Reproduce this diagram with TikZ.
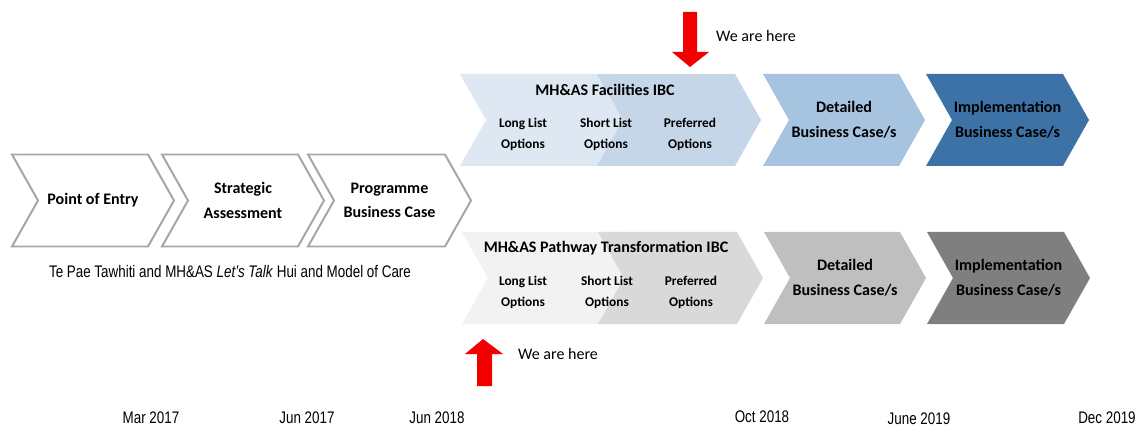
\documentclass[tikz,border=0pt]{standalone}
\usepackage{fontspec}
\setmainfont{Carlito}
\newfontfamily\narrowfont[FakeStretch=0.8]{Liberation Sans}
\usetikzlibrary{positioning}

\definecolor{line}{HTML}{A6A6A6}
\definecolor{blueA}{HTML}{DEE8F3}
\definecolor{blueB}{HTML}{C5D6E8}
\definecolor{blueC}{HTML}{A6C3DF}
\definecolor{blueD}{HTML}{3D72A6}
\definecolor{greyA}{HTML}{F2F2F2}
\definecolor{greyB}{HTML}{D9D9D9}
\definecolor{greyC}{HTML}{BFBFBF}
\definecolor{greyD}{HTML}{7F7F7F}
\definecolor{pointer}{HTML}{F20000}

% #1 style, #2 name, #3 left x, #4 top y, #5 length of top edge
\newcommand{\chevron}[5]{%
  \draw[#1] (#3,#4) -- ++(#5,0) -- ++(26,46) -- ++(-26,46) -- ++(-#5,0) -- ++(26,-46) -- cycle;
  \coordinate (#2) at ({#3+(#5+26)/2},{#4+46});}

\begin{document}
\begin{tikzpicture}[x = 0.03cm, y = -0.03cm,
    outline/.style = {draw = line, line width = 1.7pt, fill = white, line join = miter},
    solid/.style = {draw = none, fill = #1},
    title/.style = {align = center, font = \bfseries\fontsize{13.7}{21}\selectfont},
    sub/.style = {align = center, font = \bfseries\fontsize{11.4}{18}\selectfont},
    note/.style = {anchor = base west, font = \fontsize{13.7}{16}\selectfont},
    date/.style = {anchor = base, font = \narrowfont\fontsize{14.3}{16}\selectfont},
    arrowhere/.style = {fill = pointer, draw = none}]
    \useasboundingbox (0, 0) rectangle (1137, 426);

    \chevron{outline}{entry}{12}{154.5}{136}
    \chevron{outline}{sa}{162}{154.5}{136}
    \chevron{outline}{pbc}{308}{154.5}{137}

    \node[title](entry-t) at (entry) {Point of Entry};
    \node[title](sa-t) at (sa) {Strategic\\Assessment};
    \node[title](pbc-t) at (pbc) {Programme\\Business Case};

    \node[date](care) at (230, 278) {Te Pae Tawhiti and MH\&AS \textit{Let’s Talk} Hui and Model of Care};

    \chevron{solid = blueA}{fac1}{460}{74}{160}
    \chevron{solid = blueB}{fac2}{597}{74}{138}
    \chevron{solid = blueC}{fdbc}{763}{74}{136}
    \chevron{solid = blueD}{fibc}{926}{74}{137}

    \node[title](fac) at (605, 90) {MH\&AS Facilities IBC};
    \node[sub](fac-long) at (523, 134.5) {Long List\\Options};
    \node[sub](fac-short) at (606, 134.5) {Short List\\Options};
    \node[sub](fac-pref) at (690, 134.5) {Preferred\\Options};
    \node[title](fdbc-t) at (fdbc) {Detailed\\Business Case/s};
    \node[title](fibc-t) at (fibc) {Implementation\\Business Case/s};

    \chevron{solid = greyA}{path1}{462}{232}{160}
    \chevron{solid = greyB}{path2}{598}{232}{139}
    \chevron{solid = greyC}{pdbc}{764}{232}{136}
    \chevron{solid = greyD}{pibc}{927}{232}{137}

    \node[title](path) at (606, 248) {MH\&AS Pathway Transformation IBC};
    \node[sub](path-long) at (523, 292) {Long List\\Options};
    \node[sub](path-short) at (607, 292) {Short List\\Options};
    \node[sub](path-pref) at (691, 292) {Preferred\\Options};
    \node[title](pdbc-t) at (pdbc) {Detailed\\Business Case/s};
    \node[title](pibc-t) at (pibc) {Implementation\\Business Case/s};

    \fill[arrowhere] (683, 12) -- (697, 12) -- (697, 52) -- (709, 52) -- (690, 67) -- (672, 52) -- (683, 52) -- cycle;
    \node[note](here1) at (712, 42) {We are here};

    \fill[arrowhere] (483, 339) -- (503, 354) -- (492, 354) -- (492, 386) -- (477, 386) -- (477, 354) -- (465, 354) -- cycle;
    \node[note](here2) at (514, 359) {We are here};

    \node[date](mar17) at (151, 423) {Mar 2017};
    \node[date](jun17) at (307, 423) {Jun 2017};
    \node[date](jun18) at (437, 423) {Jun 2018};
    \node[date](oct18) at (762, 422) {Oct 2018};
    \node[date](jun19) at (919, 424) {June 2019};
    \node[date](dec19) at (1107, 423) {Dec 2019};
\end{tikzpicture}
\end{document}
